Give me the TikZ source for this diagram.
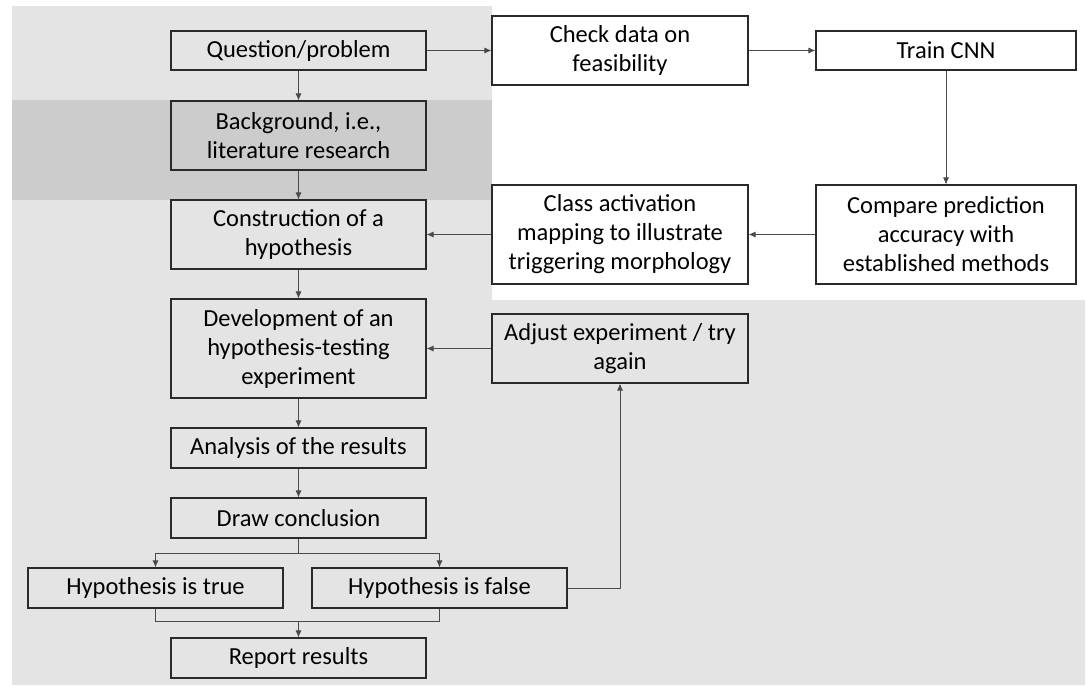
\documentclass[tikz,border=0pt]{standalone}
\usepackage{fontspec}
\setmainfont{Carlito}
\usetikzlibrary{arrows.meta}
\definecolor{bglight}{HTML}{E4E4E4}
\definecolor{bgdark}{HTML}{CCCCCC}
\definecolor{linec}{HTML}{4A4A4A}
\definecolor{boxc}{HTML}{2A2A2A}
\begin{document}
\begin{tikzpicture}[x=1pt,y=-1pt,
  box/.style={draw=boxc, line width=1.1pt, inner sep=0pt, align=center,
    font=\fontsize{24.5}{29}\selectfont},
  arr/.style={draw=linec, line width=0.8pt, -{Latex[length=7pt,width=6pt]}},
  ln/.style={draw=linec, line width=0.8pt}]
\useasboundingbox (0,0) rectangle (1086,686);
% backgrounds
\fill[bglight] (12,6) -- (492,6) -- (492,300) -- (1085,300) -- (1085,685) -- (12,685) -- cycle;
\fill[bgdark] (12,100) rectangle (492,200);
% left column
\node[box, fill=bglight, minimum width=255pt, minimum height=39pt] (q) at (298.5,50.5) {Question/problem};
\node[box, fill=bgdark, minimum width=255pt, minimum height=69pt] (bg) at (298.5,135.5) {Background, i.e.,\\literature research};
\node[box, fill=bglight, minimum width=255pt, minimum height=69pt] (con) at (298.5,234.5) {Construction of a\\hypothesis};
\node[box, fill=bglight, minimum width=255pt, minimum height=99pt] (dev) at (298.5,348.5) {Development of an\\hypothesis-testing\\experiment};
\node[box, fill=bglight, minimum width=255pt, minimum height=40pt] (ana) at (298.5,448) {Analysis of the results};
\node[box, fill=bglight, minimum width=255pt, minimum height=40pt] (dc) at (298.5,518) {Draw conclusion};
\node[box, fill=bglight, minimum width=255pt, minimum height=40pt] (ht) at (155.5,588) {Hypothesis is true};
\node[box, fill=bglight, minimum width=255pt, minimum height=40pt] (hf) at (439.5,588) {Hypothesis is false};
\node[box, fill=bglight, minimum width=255pt, minimum height=40pt] (rr) at (298.5,658) {Report results};
% right part
\node[box, fill=white, minimum width=256pt, minimum height=69pt] (chk) at (620,50.5) {Check data on\\feasibility};
\node[box, fill=white, minimum width=260pt, minimum height=39pt] (cnn) at (946,50.5) {Train CNN};
\node[box, fill=white, minimum width=256pt, minimum height=99pt] (cam) at (620,234.5) {Class activation\\mapping to illustrate\\triggering morphology};
\node[box, fill=white, minimum width=260pt, minimum height=99pt] (cmp) at (946,234.5) {Compare prediction\\accuracy with\\established methods};
\node[box, fill=bglight, minimum width=256pt, minimum height=69pt] (adj) at (620,348.5) {Adjust experiment / try\\again};
% connectors
\draw[arr] (q) -- (chk);
\draw[arr] (chk) -- (cnn);
\draw[arr] (cnn) -- (cmp);
\draw[arr] (cmp) -- (cam);
\draw[arr] (cam) -- (con);
\draw[arr] (adj) -- (dev);
\draw[arr] (q) -- (bg);
\draw[arr] (bg) -- (con);
\draw[arr] (con) -- (dev);
\draw[arr] (dev) -- (ana);
\draw[arr] (ana) -- (dc);
\coordinate (sp) at (298.5,553);
\coordinate (mg) at (298.5,621);
\draw[ln] (dc.south) -- (sp);
\draw[arr] (sp) -| (ht.north);
\draw[arr] (sp) -| (hf.north);
\draw[ln] (ht.south) |- (mg);
\draw[ln] (hf.south) |- (mg);
\draw[arr] (mg) -- (rr.north);
\draw[arr] (hf.east) -| (adj.south);
\end{tikzpicture}
\end{document}
